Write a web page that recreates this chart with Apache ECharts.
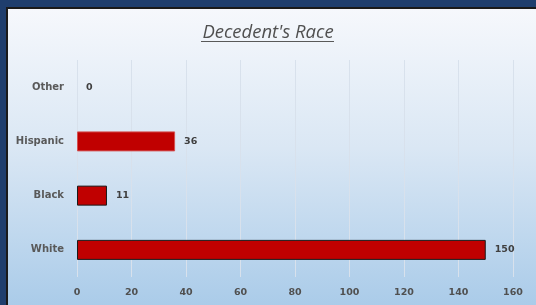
<!DOCTYPE html>
<html>
<head>
<meta charset="utf-8">
<script src="https://cdn.jsdelivr.net/npm/echarts@6/dist/echarts.min.js"></script>
<style>
  html, body { margin: 0; padding: 0; background: #1f3e6d; }
  #main { width: 536px; height: 305px; }
</style>
</head>
<body>
<div id="main"></div>
<script>
// data
var categories = ['White', 'Black', 'Hispanic', 'Other'];
var counts = [150, 11, 36, 0];
var xTicks = [0, 20, 40, 60, 80, 100, 120, 140, 160];

var labelFont = 'DejaVu Sans';

var chart = echarts.init(document.getElementById('main'));

var option = {
  backgroundColor: '#1f3e6d',
  graphic: [
    // panel frame + gradient fill
    {
      type: 'rect', z: -10,
      shape: { x: 6, y: 7, width: 540, height: 310 },
      style: { fill: '#1a1a1a' }
    },
    {
      type: 'rect', z: -9,
      shape: { x: 8, y: 9, width: 540, height: 310 },
      style: {
        fill: new echarts.graphic.LinearGradient(0, 0, 0, 1, [
          { offset: 0, color: '#f6f8fc' },
          { offset: 0.45, color: '#dae7f4' },
          { offset: 1, color: '#a6c9e8' }
        ])
      }
    },
    // underline for the title
    {
      type: 'line', z: 5,
      shape: { x1: 201, y1: 41.5, x2: 334, y2: 41.5 },
      style: { stroke: '#595959', lineWidth: 1 }
    }
  ],
  title: {
    text: "Decedent's Race",
    left: 'center',
    top: 18,
    textStyle: {
      fontFamily: 'Open Sans',
      fontStyle: 'italic',
      fontWeight: 'normal',
      fontSize: 18.5,
      color: '#505050'
    }
  },
  grid: {
    left: 77,
    right: 23,
    top: 60,
    bottom: 28
  },
  xAxis: {
    type: 'value',
    min: 0,
    max: 160,
    interval: 20,
    axisLine: { show: false },
    axisTick: { show: false },
    splitLine: { lineStyle: { color: '#d8e1ec', width: 1 } },
    axisLabel: {
      margin: 11,
      color: '#505050',
      fontFamily: labelFont,
      fontWeight: 'bold',
      fontSize: 9.5,
      formatter: function (v) { return xTicks.indexOf(v) >= 0 ? String(v) : ''; }
    }
  },
  yAxis: {
    type: 'category',
    data: categories,
    axisLine: { show: false },
    axisTick: { show: false },
    axisLabel: {
      margin: 13,
      color: '#595959',
      fontFamily: labelFont,
      fontWeight: 'bold',
      fontSize: 10
    }
  },
  series: [{
    type: 'bar',
    data: counts.map(function (v, i) {
      return {
        value: v,
        itemStyle: {
          borderWidth: v > 0 ? 1 : 0,
          borderColor: categories[i] === 'Hispanic' ? '#d45050' : '#1a1a1a'
        }
      };
    }),
    barWidth: 20,
    itemStyle: {
      color: '#c00000'
    },
    label: {
      show: true,
      position: 'right',
      distance: 9,
      color: '#404040',
      fontFamily: labelFont,
      fontWeight: 'bold',
      fontSize: 9.5
    }
  }]
};

chart.setOption(option, true);
</script>
</body>
</html>
